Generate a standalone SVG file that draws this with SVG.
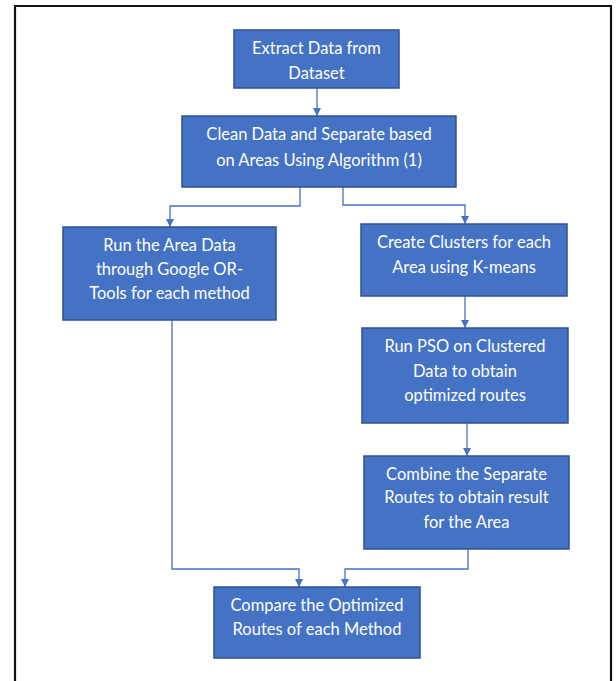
<svg xmlns="http://www.w3.org/2000/svg" width="616" height="681" viewBox="0 0 616 681">
<defs>
<style>
.box{fill:#4472C4;stroke:#2F528F;stroke-width:1.5}
.lbl{fill:#FFFFFF;font-family:Lato,"Liberation Sans",sans-serif;font-size:16.5px;text-anchor:middle}
.conn{fill:none;stroke:#4472C4;stroke-width:1.3}
</style>
<marker id="arr" viewBox="0 0 10 10" refX="10" refY="5" markerWidth="8" markerHeight="8" markerUnits="userSpaceOnUse" orient="auto">
<path d="M0,0 L10,5 L0,10 Z" fill="#4472C4"/>
</marker>
</defs>
<rect x="0" y="0" width="616" height="681" fill="#FFFFFF"/>
<path d="M15,690 V6 H611 V690" fill="none" stroke="#111111" stroke-width="2.2"/>
<g id="connectors">
<path class="conn" d="M317,88 V116" marker-end="url(#arr)"/>
<path class="conn" d="M300,187 V206 H170 V227" marker-end="url(#arr)"/>
<path class="conn" d="M343,187 V205 H465 V224" marker-end="url(#arr)"/>
<path class="conn" d="M465,296 V328" marker-end="url(#arr)"/>
<path class="conn" d="M467,423 V456" marker-end="url(#arr)"/>
<path class="conn" d="M172,320 V569 H299 V587" marker-end="url(#arr)"/>
<path class="conn" d="M468,549 V569 H345 V587" marker-end="url(#arr)"/>
</g>
<g id="n1">
<rect class="box" x="234" y="30" width="165" height="58"/>
<text class="lbl" x="316.5" y="54">Extract Data from</text>
<text class="lbl" x="316.5" y="79">Dataset</text>
</g>
<g id="n2">
<rect class="box" x="182" y="116" width="274" height="71"/>
<text class="lbl" x="319" y="140">Clean Data and Separate based</text>
<text class="lbl" x="319" y="166">on Areas Using Algorithm (1)</text>
</g>
<g id="n3">
<rect class="box" x="63" y="227" width="213" height="93"/>
<text class="lbl" x="169.5" y="251">Run the Area Data</text>
<text class="lbl" x="169.5" y="275">through Google OR-</text>
<text class="lbl" x="169.5" y="299">Tools for each method</text>
</g>
<g id="n4">
<rect class="box" x="361" y="224" width="206" height="72"/>
<text class="lbl" x="464" y="248">Create Clusters for each</text>
<text class="lbl" x="464" y="273">Area using K-means</text>
</g>
<g id="n5">
<rect class="box" x="362" y="328" width="206" height="95"/>
<text class="lbl" x="465" y="352">Run PSO on Clustered</text>
<text class="lbl" x="465" y="377">Data to obtain</text>
<text class="lbl" x="465" y="401">optimized routes</text>
</g>
<g id="n6">
<rect class="box" x="364" y="456" width="205" height="93"/>
<text class="lbl" x="466.5" y="480">Combine the Separate</text>
<text class="lbl" x="466.5" y="503">Routes to obtain result</text>
<text class="lbl" x="466.5" y="528">for the Area</text>
</g>
<g id="n7">
<rect class="box" x="214" y="587" width="206" height="71"/>
<text class="lbl" x="317" y="611">Compare the Optimized</text>
<text class="lbl" x="317" y="635">Routes of each Method</text>
</g>
</svg>
